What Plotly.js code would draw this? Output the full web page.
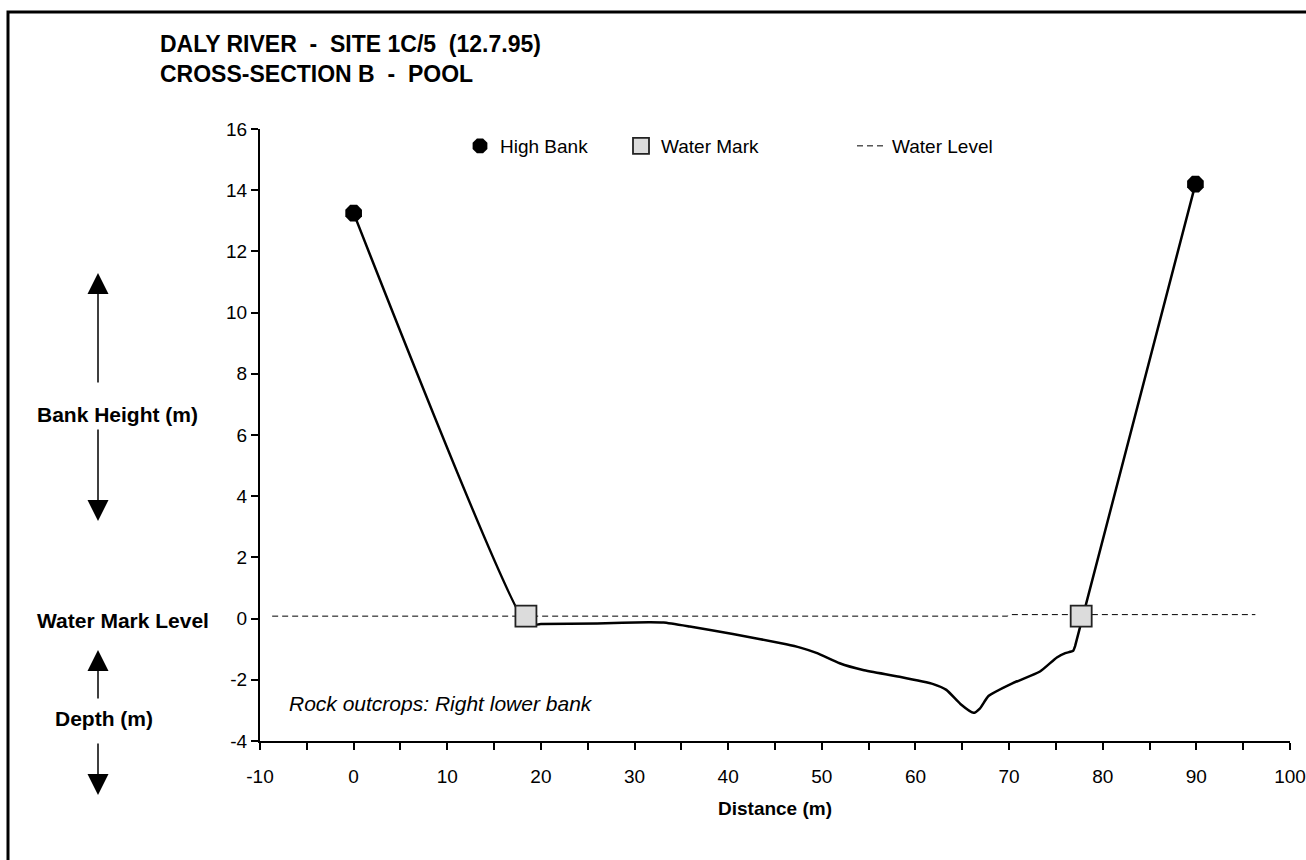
<!DOCTYPE html>
<html>
<head>
<meta charset="utf-8">
<script src="https://cdn.plot.ly/plotly-3.0.1.min.js"></script>
<style>
html,body{margin:0;padding:0;background:#fff;}
#chart{width:1306px;height:860px;}
</style>
</head>
<body>
<div id="chart"></div>
<script>
// ---- data ----
const highBankX = [0, 89.9];
const highBankY = [13.25, 14.2];

const waterMarkX = [18.4, 77.7];
const waterMarkY = [0.08, 0.08];

const waterLevelX = [-8.7, 69.8, 70.2, 96.3];
const waterLevelY = [0.08, 0.08, 0.13, 0.13];

const profileX = [0, 18.5, 20, 26, 31.5, 33.1, 35.9, 40.5, 46.2, 47.7, 49.5, 51.9, 54.4, 58.3, 61.9, 63.3, 64.8, 66.2, 66.9, 67.8, 70.4, 73.3, 75.1, 76.0, 76.85, 77.05, 89.9];
const profileY = [13.25, -0.2, -0.18, -0.16, -0.12, -0.13, -0.26, -0.5, -0.84, -0.95, -1.13, -1.46, -1.68, -1.9, -2.14, -2.33, -2.79, -3.08, -2.93, -2.53, -2.11, -1.73, -1.27, -1.13, -1.05, -0.9, 14.2];

const xTickVals = [-10, 0, 10, 20, 30, 40, 50, 60, 70, 80, 90, 100];
const yTickVals = [-4, -2, 0, 2, 4, 6, 8, 10, 12, 14, 16];

const titleLines = ["DALY RIVER\u00A0\u00A0-\u00A0\u00A0SITE 1C/5\u00A0\u00A0(12.7.95)", "CROSS-SECTION B\u00A0\u00A0-\u00A0\u00A0POOL"];
const noteText = "Rock outcrops: Right lower bank";

// ---- drawing ----
const FONT = "Liberation Sans, Arial, sans-serif";
const W = 1306, H = 860;
const mL = 260, mR = 16, mT = 129, mB = 119;
const plotW = W - mL - mR, plotH = H - mT - mB;
const px = v => (v - mL) / plotW;          // pixel x -> paper x
const py = v => (H - mB - v) / plotH;      // pixel y -> paper y

const traces = [
  {
    x: profileX, y: profileY, type: 'scatter', mode: 'lines',
    line: {color: '#000', width: 2.5, shape: 'spline', smoothing: 0.5},
    showlegend: false, hoverinfo: 'skip'
  },
  {
    x: waterLevelX, y: waterLevelY, type: 'scatter', mode: 'lines', name: 'Water Level',
    line: {color: '#000', width: 1, dash: '6px,4px'},
    legend: 'legend3'
  },
  {
    x: highBankX, y: highBankY, type: 'scatter', mode: 'markers', name: 'High Bank',
    marker: {symbol: 'octagon', size: 18, color: '#000', line: {width: 0}},
    legend: 'legend'
  },
  {
    x: waterMarkX, y: waterMarkY, type: 'scatter', mode: 'markers', name: 'Water Mark',
    marker: {symbol: 'square', size: 21, color: '#dcdcdc', line: {width: 1.8, color: '#222'}},
    legend: 'legend2'
  }
];

function arrow(xp, tipY, tailY) {
  return {
    xref: 'paper', yref: 'paper', x: px(xp), y: py(tipY),
    axref: 'pixel', ayref: 'pixel', ax: 0, ay: tailY - tipY,
    text: '', showarrow: true, arrowhead: 2, arrowsize: 2.8, arrowwidth: 1.5,
    arrowcolor: '#000'
  };
}
function sideLabel(txt, cx, cy) {
  return {
    xref: 'paper', yref: 'paper', x: px(cx), y: py(cy), xanchor: 'center', yanchor: 'middle',
    text: '<b>' + txt + '</b>', showarrow: false, font: {family: FONT, size: 21, color: '#000'}
  };
}

const legendCommon = {
  orientation: 'h', xanchor: 'left', yanchor: 'middle', y: py(146),
  bgcolor: 'rgba(0,0,0,0)', borderwidth: 0,
  font: {family: FONT, size: 19, color: '#000'}
};

const layout = {
  width: W, height: H,
  margin: {l: mL, r: mR, t: mT, b: mB, pad: 0},
  paper_bgcolor: '#fff', plot_bgcolor: '#fff',
  font: {family: FONT, size: 19, color: '#000'},
  title: {
    text: '<b>' + titleLines.join('<br>') + '</b>',
    xref: 'container', yref: 'container', x: 160 / W, y: 1 - 52 / H,
    xanchor: 'left', yanchor: 'top',
    font: {family: FONT, size: 23, color: '#000'}
  },
  xaxis: {
    range: [-10, 100], tickvals: xTickVals, ticktext: xTickVals.map(String),
    showgrid: false, zeroline: false, showline: true, linecolor: '#000', linewidth: 2,
    ticks: 'outside', ticklen: 7, tickwidth: 2, tickcolor: '#000',
    ticklabelstandoff: 10,
    minor: {dtick: 5, tick0: -5, ticks: 'outside', ticklen: 7, tickwidth: 2, tickcolor: '#000', showgrid: false},
    tickfont: {family: FONT, size: 19, color: '#000'},
    title: {text: '<b>Distance (m)</b>', font: {family: FONT, size: 19, color: '#000'}, standoff: 16},
    fixedrange: true
  },
  yaxis: {
    range: [-4, 16], tickvals: yTickVals, ticktext: yTickVals.map(String),
    showgrid: false, zeroline: false, showline: true, linecolor: '#000', linewidth: 2,
    ticks: 'outside', ticklen: 7, tickwidth: 2, tickcolor: '#000',
    tickfont: {family: FONT, size: 19, color: '#000'},
    fixedrange: true
  },
  legend: Object.assign({}, legendCommon, {x: px(460)}),
  legend2: Object.assign({}, legendCommon, {x: px(621)}),
  legend3: Object.assign({}, legendCommon, {x: px(852)}),
  shapes: [
    {type: 'rect', xref: 'paper', yref: 'paper', x0: px(8), x1: px(1330), y0: py(880), y1: py(12),
     line: {color: '#000', width: 3}, fillcolor: 'rgba(0,0,0,0)', layer: 'above'}
  ],
  annotations: [
    {xref: 'x', yref: 'y', x: -7.1, y: -2.76, xanchor: 'left', yanchor: 'middle', showarrow: false,
     text: '<i>' + noteText + '</i>', font: {family: FONT, size: 21, color: '#000'}},
    sideLabel('Bank Height (m)', 117, 414),
    sideLabel('Water Mark Level', 123, 620),
    sideLabel('Depth (m)', 104, 718),
    arrow(98, 273, 384),
    arrow(98, 521, 428),
    arrow(98, 650, 700),
    arrow(98, 795, 742)
  ]
};

Plotly.newPlot('chart', traces, layout, {staticPlot: true, displayModeBar: false});
</script>
</body>
</html>
